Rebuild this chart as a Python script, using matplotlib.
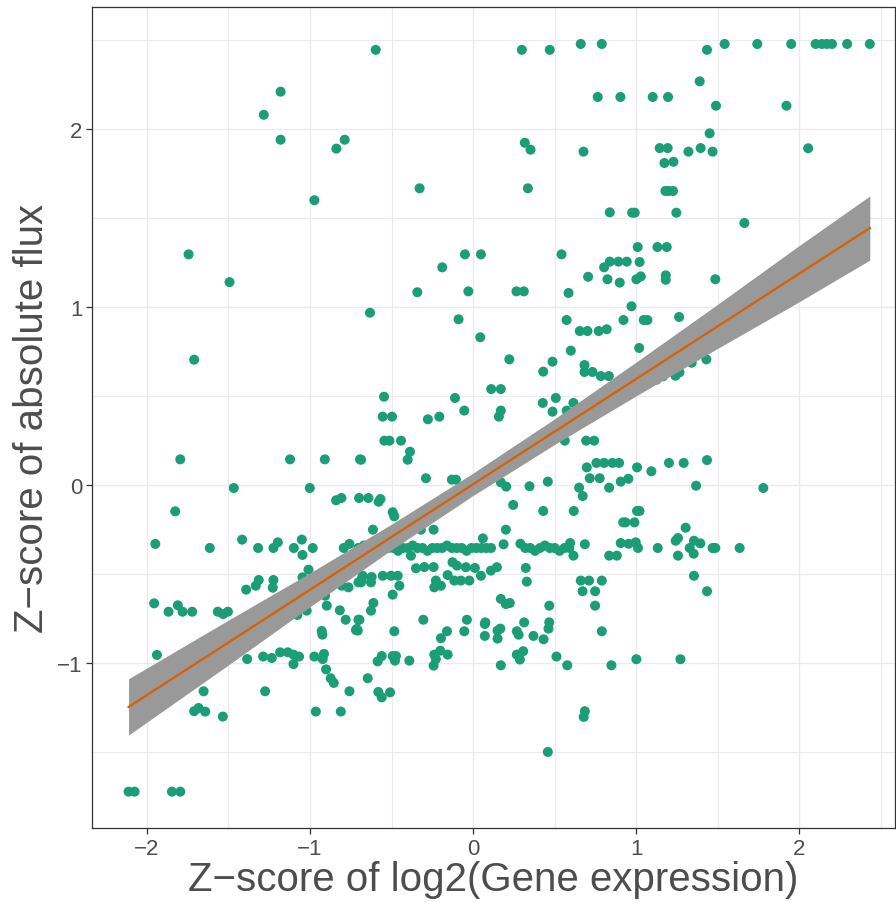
import numpy as np
import matplotlib
matplotlib.use("Agg")
import matplotlib.pyplot as plt
from matplotlib.ticker import MultipleLocator

# --------------------------- DATA --------------------------- #
# z-score of log2(gene expression) vs z-score of absolute flux

# top strip (y ~ 2.45-2.48)
top_x = [-0.597, 0.299, 0.47, 0.66, 0.789, 1.434, 1.542, 1.742, 1.95, 2.10, 2.138, 2.169, 2.2, 2.293, 2.432]
top_y = [2.445, 2.445, 2.445, 2.478, 2.478, 2.445, 2.478, 2.478, 2.478, 2.478, 2.478, 2.478, 2.478, 2.478, 2.478]

# upper region (y between 1 and 2.3)
upper_x = [-1.18, -1.283, -1.18, -0.787, -0.838, -0.973, 0.764, 0.903, 0.317, 0.352, 0.677, -0.328, 0.336,
           0.838, 1.389, 1.101, 1.195, 1.489, 1.921, 1.45, 1.144, 1.193, 1.32, 1.395, 1.468, 2.054, 1.173,
           1.228, 1.179, 1.199, 1.226, 0.991, 1.246, 0.975, -1.744, -1.493, -0.05, 0.048, 0.542, -0.189,
           0.803, 0.838, 0.891, 0.942, 0.705, 0.824, 0.899, -0.342, -0.029, 0.266, 0.311, 0.585, 1.663,
           1.009, 1.13, 1.187, 1.021, 1.001, 1.028, 1.181, 1.181, 1.485, 0.971]
upper_y = [2.21, 2.08, 1.94, 1.94, 1.89, 1.60, 2.18, 2.18, 1.923, 1.884, 1.873, 1.667, 1.667,
           1.532, 2.268, 2.18, 2.18, 2.131, 2.131, 1.976, 1.893, 1.893, 1.873, 1.893, 1.873, 1.892, 1.809,
           1.816, 1.652, 1.652, 1.652, 1.53, 1.53, 1.53, 1.296, 1.14, 1.296, 1.296, 1.296, 1.223,
           1.223, 1.255, 1.255, 1.255, 1.17, 1.156, 1.137, 1.083, 1.088, 1.088, 1.088, 1.079, 1.472,
           1.337, 1.337, 1.337, 1.253, 1.156, 1.172, 1.178, 1.153, 1.156, 1.004]

# middle region (y between 0 and 1)
mid_x = [-1.71, -0.632, -0.089, 0.573, 0.922, 0.044, 0.654, 0.701, 0.77, 0.819, 0.599, 0.222, 0.487,
         0.43, 0.683, 0.683, 0.732, 0.783, 0.832, 0.111, 0.17, -0.546, -0.111, 0.427, 0.507, 0.615,
         0.487, 0.574, -0.554, -0.497, -0.277, -0.207, -0.054, 0.17, 0.158, 1.046, 1.069, 1.263, 1.018,
         1.43, 1.34, 1.24, 1.265, 1.124, 1.165, 1.005, 0.952, 1.093, 1.201, 1.291, 1.434, -1.795,
         -1.122, -0.909, -0.693, -0.544, -0.513, -0.442, -0.387, -0.401, -0.687, -0.289, -0.13, -0.105,
         0.17, 0.458, 0.562, 0.693, 0.742, 0.697, 0.756, 0.803, 0.854, 0.895, 0.715, 0.776, 0.905]
mid_y = [0.704, 0.968, 0.931, 0.927, 0.927, 0.83, 0.865, 0.865, 0.865, 0.875, 0.755, 0.706, 0.693,
         0.637, 0.674, 0.635, 0.635, 0.612, 0.612, 0.539, 0.539, 0.496, 0.489, 0.461, 0.489, 0.461,
         0.412, 0.418, 0.384, 0.384, 0.369, 0.384, 0.418, 0.418, 0.384, 0.927, 0.927, 0.944, 0.77,
         0.706, 0.687, 0.614, 0.633, 0.592, 0.611, 0.099, 0.035, 0.077, 0.124, 0.124, 0.14, 0.144,
         0.144, 0.144, 0.144, 0.249, 0.249, 0.249, 0.187, 0.142, 0.142, 0.038, 0.03, 0.03,
         0.015, 0.019, 0.249, 0.249, 0.249, 0.099, 0.124, 0.124, 0.124, 0.124, 0.038, 0.038, 0.019]

# lower region (y between -1 and 0)
low_x = [-1.467, -1.001, -1.826, -0.84, -0.807, -0.699, -1.948, -1.614, -1.416, -1.318, -1.224, -1.197,
         -1.099, -1.05, -1.046, -0.983, -0.793, -0.758, -0.703, -1.009, -1.046, -1.314, -1.332, -1.224,
         -1.228, -1.391, -1.955, -1.867, -1.81, -1.781, -1.722, -1.565, -1.532, -1.503, -0.897, -0.817,
         -0.781, -0.703, -1.02, -1.077, -0.928, -0.713, -0.805, -0.764, -0.703, -0.683, -0.907,
         0.203, 0.346, 0.65, 0.672, 0.834, -0.642, -0.568, -0.579, -0.493, -0.483, 0.246, 0.43, 0.617,
         0.92, -0.614, -0.32, -0.242, 0.201, 0.06, 0.187, 0.685, 0.615, 0.834, 0.881, 0.905, 0.595,
         -0.381, -0.35, -0.299, -0.242, -0.126, -0.099, -0.044, 0.011, 0.048, -0.156, -0.115, -0.075,
         -0.023, -0.228, -0.238, -0.197, 0.109, 0.146, 0.323, 0.329, 0.66, 0.711, 0.789, 0.671, 0.748,
         0.748, 0.467, 0.17, 0.201, 0.225, -0.611, -0.626, -0.493, -0.452, -0.503, -0.462, -0.677,
         -0.622, -0.554, -0.687, -0.626, -0.697, -0.305, -0.038, 0.075, 0.313, 0.467,
         1.779, 1.005, 1.02, 0.934, 0.989, 1.303, 0.954, 0.997, 1.011, 1.132, 1.242, 1.256, 1.354,
         1.393, 1.328, 1.352, 1.256, 1.468, 1.485, 1.634, 1.354, 1.434, 1.367]
low_y = [-0.017, -0.017, -0.148, -0.086, -0.073, -0.073, -0.331, -0.354, -0.307, -0.354, -0.354, -0.322,
         -0.354, -0.307, -0.393, -0.354, -0.354, -0.331, -0.354, -0.476, -0.519, -0.534, -0.566, -0.534,
         -0.577, -0.588, -0.665, -0.712, -0.676, -0.712, -0.712, -0.712, -0.725, -0.712, -0.678, -0.704,
         -0.757, -0.757, -0.706, -0.73, -0.82, -0.809, -0.566, -0.575, -0.547, -0.528, -0.622,
         -0.009, -0.007, -0.015, -0.062, -0.015, -0.073, -0.079, -0.094, -0.153, -0.176, -0.112, -0.146,
         -0.146, -0.21, -0.251, -0.251, -0.251, -0.251, -0.3, -0.333, -0.333, -0.397, -0.397, -0.397,
         -0.326, -0.326, -0.397, -0.468, -0.461, -0.461, -0.434, -0.453, -0.462, -0.466, -0.51, -0.506,
         -0.537, -0.537, -0.537, -0.537, -0.575, -0.566, -0.481, -0.462, -0.466, -0.543, -0.537, -0.537,
         -0.537, -0.597, -0.597, -0.678, -0.678, -0.64, -0.669, -0.663, -0.663, -0.706, -0.616, -0.566,
         -0.51, -0.51, -0.51, -0.517, -0.51, -0.547, -0.547, -0.757, -0.757, -0.757, -0.772, -0.772,
         -0.772, -0.017, -0.146, -0.146, -0.21, -0.21, -0.24, -0.33, -0.322, -0.354, -0.354, -0.313,
         -0.298, -0.313, -0.328, -0.354, -0.386, -0.397, -0.354, -0.354, -0.354, -0.51, -0.597, -0.004]

# the dense row at y ~ -0.35
row_x = [-0.70, -0.67, -0.64, -0.61, -0.58, -0.55, -0.52, -0.49, -0.46, -0.43, -0.40, -0.37, -0.34,
         -0.31, -0.28, -0.25, -0.22, -0.19, -0.16, -0.13, -0.10, -0.07, -0.04, -0.01, 0.02, 0.05, 0.08,
         0.11, 0.29, 0.32, 0.35, 0.38, 0.41, 0.44, 0.47, 0.50, 0.53, 0.56, 0.59]
row_y = [-0.354, -0.34, -0.354, -0.37, -0.354, -0.34, -0.354, -0.354, -0.37, -0.354, -0.354, -0.34,
         -0.354, -0.354, -0.37, -0.354, -0.354, -0.354, -0.34, -0.354, -0.354, -0.354, -0.37, -0.354,
         -0.354, -0.354, -0.354, -0.354, -0.33, -0.354, -0.354, -0.37, -0.354, -0.34, -0.354, -0.354,
         -0.37, -0.354, -0.354]

# bottom region (y below -0.8)
bot_x = [1.001, 1.271, -0.707, -0.483, -0.197, -0.16, -0.054, 0.072, 0.072, 0.15, 0.167, 0.15, 0.268,
         0.279, 0.37, 0.432, 0.462, 0.789, -0.585, -0.56, -0.493, -0.473, -0.479, -0.391, -0.238,
         -0.201, -0.156, -0.242, -0.228, -0.646, -0.581, -0.56, -0.509, 0.17, 0.268, 0.307, 0.287,
         0.511, 0.577, 0.848, 0.685, 0.678, 0.458, -1.938, -1.385, -1.287, -1.234, -1.183, -1.136,
         -1.101, -1.067, -1.101, -0.973, -0.924, -0.914, -0.922, -0.901, -0.873, -0.854, -0.758, -0.718,
         -0.964, -0.811, -1.275, -1.652, -1.71, -1.683, -1.642, -1.534, -2.112, -2.075, -1.846, -1.795]
bot_y = [-0.979, -0.979, -0.818, -0.822, -0.861, -0.822, -0.822, -0.781, -0.848, -0.818, -0.807, -0.863,
         -0.822, -0.841, -0.848, -0.867, -0.807, -0.822, -0.991, -0.961, -0.961, -0.961, -0.987, -0.987,
         -0.953, -0.931, -0.953, -1.015, -0.978, -1.086, -1.163, -1.193, -1.165, -1.013, -0.953,
         -0.934, -0.981, -0.964, -1.013, -1.013, -1.271, -1.303, -1.5, -0.955, -0.978, -0.964, -0.972,
         -0.94, -0.94, -0.953, -0.964, -1.006, -0.964, -0.841, -0.949, -0.978, -1.036, -1.086, -1.112,
         -1.159, -0.815, -1.273, -1.273, -1.159, -1.159, -1.271, -1.253, -1.273, -1.301, -1.723, -1.723,
         -1.723, -1.723]

# linear fit (geom_smooth, method = "lm") and its 95% band
fit_x = [-2.112, -1.5, -1.0, -0.5, 0.0, 0.5, 1.0, 1.5, 2.0, 2.432]
fit_y = [-1.247, -0.885, -0.589, -0.292, 0.004, 0.300, 0.596, 0.892, 1.188, 1.444]
fit_lo = [-1.405, -1.011, -0.684, -0.364, -0.059, 0.228, 0.501, 0.768, 1.030, 1.264]
fit_hi = [-1.089, -0.759, -0.494, -0.220, 0.067, 0.372, 0.691, 1.016, 1.346, 1.624]

x = np.array(top_x + upper_x + mid_x + low_x + row_x + bot_x)
y = np.array(top_y + upper_y + mid_y + low_y + row_y + bot_y)

# --------------------------- PLOT --------------------------- #
plt.rcParams["font.family"] = ["Liberation Sans", "DejaVu Sans"]

fig = plt.figure(figsize=(8.96, 9.03), dpi=100)
ax = fig.add_axes([0.1027, 0.082, 0.8963, 0.909])

ax.scatter(x, y, s=52, color="#1B9E77", edgecolors="none", zorder=3)
ax.fill_between(fit_x, fit_lo, fit_hi, color="#999999", linewidth=0, zorder=4)
ax.plot(fit_x, fit_y, color="#D95F02", linewidth=1.6, zorder=5)

ax.set_xlim(-2.336, 2.587)
ax.set_ylim(-1.927, 2.685)

ax.xaxis.set_major_locator(MultipleLocator(1))
ax.xaxis.set_minor_locator(MultipleLocator(0.5))
ax.yaxis.set_major_locator(MultipleLocator(1))
ax.yaxis.set_minor_locator(MultipleLocator(0.5))
ax.set_axisbelow(True)
ax.grid(which="major", color="#EBEBEB", linewidth=1.0)
ax.grid(which="minor", color="#EBEBEB", linewidth=0.8)

for side in ax.spines.values():
    side.set_color("#333333")
    side.set_linewidth(0.9)

ax.tick_params(which="major", length=4, width=0.9, color="#333333", labelsize=16,
               labelcolor="#4D4D4D", pad=3)
ax.tick_params(which="minor", length=0)
ax.set_xticks([-2, -1, 0, 1, 2])
ax.set_xticklabels(["\u22122", "\u22121", "0", "1", "2"])
ax.set_yticks([-1, 0, 1, 2])
ax.set_yticklabels(["\u22121", "0", "1", "2"])

ax.set_xlabel("Z\u2212score of log2(Gene expression)", fontsize=29, color="#4D4D4D", labelpad=1)
ax.set_ylabel("Z\u2212score of absolute flux", fontsize=29, color="#4D4D4D", labelpad=4)

plt.savefig("out.png", dpi=100)
